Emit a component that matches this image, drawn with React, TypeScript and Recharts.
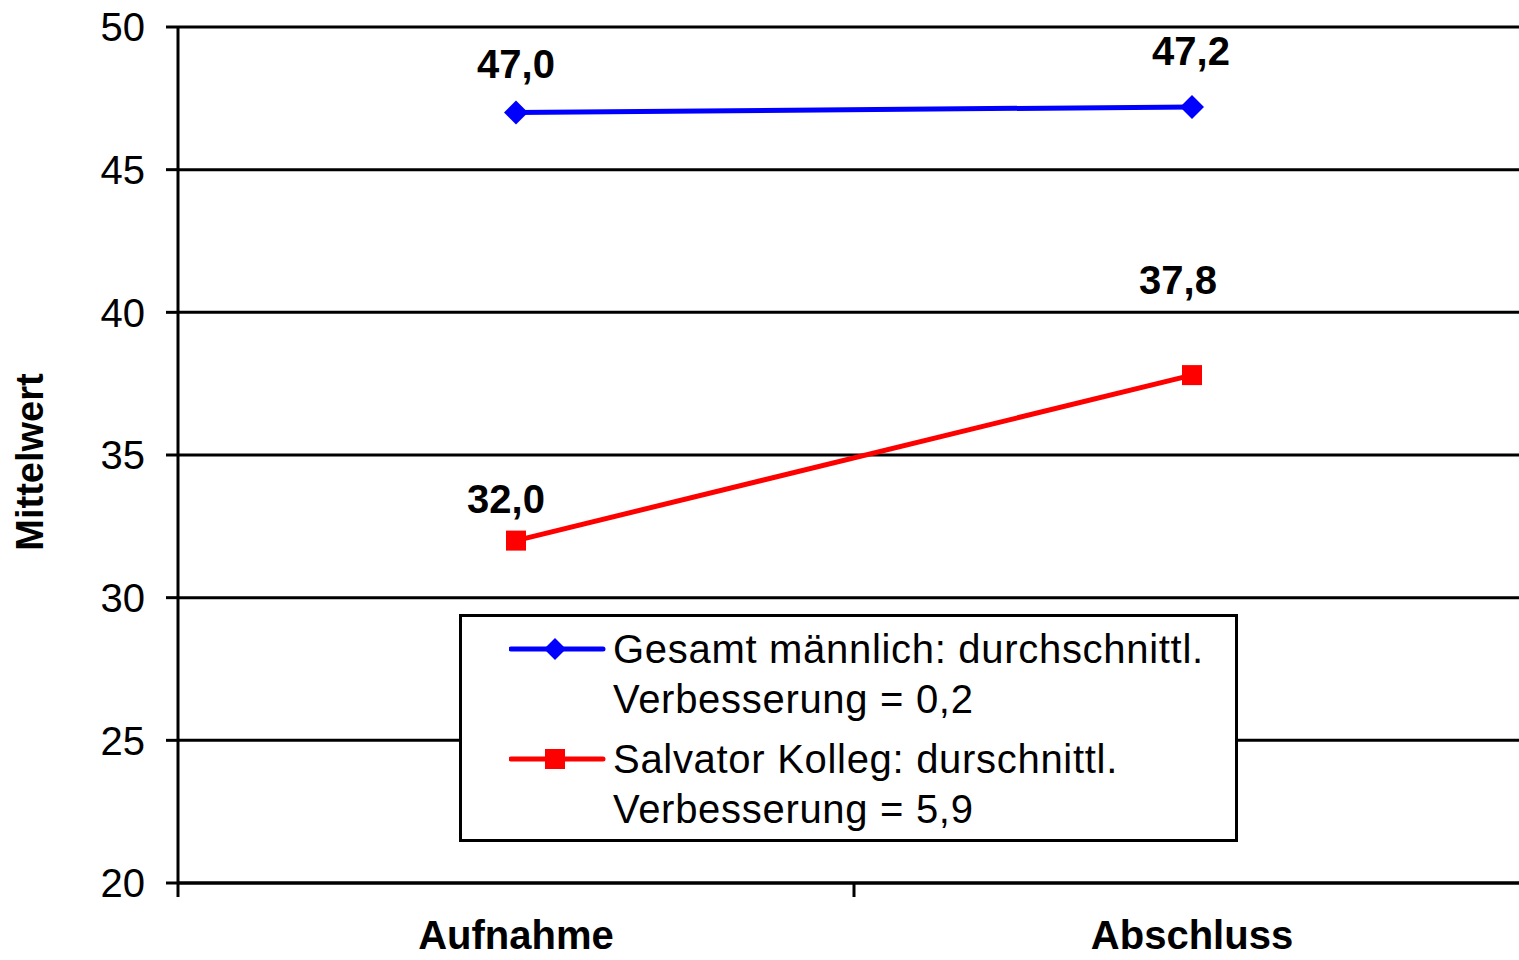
import React from 'react';
import { LineChart, Line, XAxis, YAxis, CartesianGrid, Legend, LabelList } from 'recharts';

// categories on the x axis
const categories = ['Aufnahme', 'Abschluss'];

// series values (Mittelwert)
const gesamtValues = [47.0, 47.2];
const salvatorValues = [32.0, 37.8];

const seriesNames = [
  'Gesamt männlich: durchschnittl.\nVerbesserung = 0,2',
  'Salvator Kolleg: durschnittl.\nVerbesserung = 5,9',
];

const yTicks = [20, 25, 30, 35, 40, 45, 50];

const FONT = '"Liberation Sans", Arial, sans-serif';
const BLUE = '#0000FF';
const RED = '#FF0000';

// hand-placed label nudges, like in the original sheet (dx, lift above point)
const labelNudge: Record<string, [number, number][]> = {
  gesamt: [[0, 49], [-1, 56]],
  salvator: [[-10, 42], [-14, 95]],
};

// x positions sit in the middle of each category band, ticks on the band edges
const data = categories.map((name, i) => ({
  name,
  x: i + 0.5,
  gesamt: gesamtValues[i],
  salvator: salvatorValues[i],
}));

const fmt = (v: number) => v.toFixed(1).replace('.', ',');

const Diamond = ({ cx, cy, fill, r = 12 }: any) => (
  <polygon points={`${cx},${cy - r} ${cx + r},${cy} ${cx},${cy + r} ${cx - r},${cy}`} fill={fill} />
);

const Square = ({ cx, cy, fill, s = 10 }: any) => (
  <rect x={cx - s} y={cy - s} width={s * 2} height={s * 2} fill={fill} />
);

const XTick = ({ x, y, payload }: any) => {
  const v = payload.value;
  if (Number.isInteger(v)) {
    return <line x1={x} x2={x} y1={y} y2={y + 14} stroke="#000" strokeWidth={3} />;
  }
  return (
    <text x={x} y={y + 52} textAnchor="middle" dominantBaseline="central"
      fontFamily={FONT} fontSize={40} fontWeight="bold" fill="#000">
      {categories[Math.floor(v)]}
    </text>
  );
};

const makeLabel = (key: string) => (props: any) => {
  const { x, y, value, index } = props;
  const [dx, lift] = labelNudge[key][index];
  return (
    <text x={x + dx} y={y - lift} textAnchor="middle" dominantBaseline="central"
      fontFamily={FONT} fontSize={40} fontWeight="bold" fill="#000">
      {fmt(value)}
    </text>
  );
};

const LegendBox = ({ payload }: any) => (
  <div style={{
    border: '3px solid #000', background: '#fff', boxSizing: 'border-box',
    width: 779, height: 228, padding: '7px 0 0 47px', fontFamily: FONT,
  }}>
    {(payload || []).map((entry: any, i: number) => (
      <div key={entry.value} style={{ display: 'flex', alignItems: 'flex-start', marginTop: i === 0 ? 0 : 10 }}>
        <svg width={104} height={50} style={{ flex: 'none' }}>
          <line x1={2} x2={94} y1={25} y2={25} stroke={entry.color} strokeWidth={5} strokeLinecap="round" />
          {i === 0
            ? <Diamond cx={46} cy={25} r={11} fill={entry.color} />
            : <Square cx={46} cy={25} s={10} fill={entry.color} />}
        </svg>
        <div style={{ whiteSpace: 'pre-line', fontSize: 40, lineHeight: '50px', color: '#000', letterSpacing: 0.7 }}>
          {entry.value}
        </div>
      </div>
    ))}
  </div>
);

export default function App() {
  return (
    <div style={{ position: 'absolute', left: 0, top: 0, width: 1519, height: 960, overflow: 'hidden', background: '#fff' }}>
      <LineChart width={1530} height={960} data={data} margin={{ top: 27, right: 0, bottom: 0, left: 0 }}>
        <CartesianGrid vertical={false} stroke="#000" strokeWidth={3} />
        <XAxis
          dataKey="x"
          type="number"
          domain={[0, 2]}
          ticks={[0, 0.5, 1, 1.5, 2]}
          interval={0}
          height={77}
          tickLine={false}
          tickSize={0}
          tickMargin={0}
          axisLine={{ stroke: '#000', strokeWidth: 3 }}
          tick={<XTick />}
        />
        <YAxis
          domain={[20, 50]}
          ticks={yTicks}
          interval={0}
          width={178}
          tickSize={12}
          tickMargin={21}
          tickLine={{ stroke: '#000', strokeWidth: 3 }}
          axisLine={{ stroke: '#000', strokeWidth: 3 }}
          tick={{ fill: '#000', fontSize: 40, fontFamily: FONT }}
          label={{
            content: () => (
              <text x={30} y={462} transform="rotate(-90 30 462)" textAnchor="middle" dominantBaseline="central"
                fontFamily={FONT} fontSize={38} fontWeight="bold" fill="#000">
                Mittelwert
              </text>
            ),
          }}
        />
        <Legend
          layout="vertical"
          align="center"
          verticalAlign="middle"
          wrapperStyle={{ left: 459, top: 614, width: 779 }}
          content={<LegendBox />}
        />
        <Line
          dataKey="gesamt"
          name={seriesNames[0]}
          stroke={BLUE}
          strokeWidth={5}
          isAnimationActive={false}
          dot={(p: any) => <Diamond key={`g${p.index}`} cx={p.cx} cy={p.cy} fill={BLUE} />}
          activeDot={false}
        >
          <LabelList dataKey="gesamt" content={makeLabel('gesamt')} />
        </Line>
        <Line
          dataKey="salvator"
          name={seriesNames[1]}
          stroke={RED}
          strokeWidth={5}
          isAnimationActive={false}
          dot={(p: any) => <Square key={`s${p.index}`} cx={p.cx} cy={p.cy} fill={RED} />}
          activeDot={false}
        >
          <LabelList dataKey="salvator" content={makeLabel('salvator')} />
        </Line>
      </LineChart>
    </div>
  );
}
